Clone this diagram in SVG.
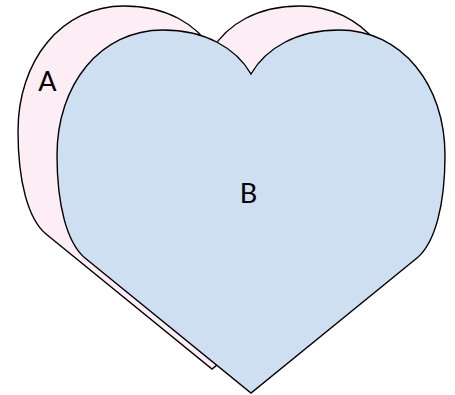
<svg xmlns="http://www.w3.org/2000/svg" xmlns:xlink="http://www.w3.org/1999/xlink" width="455" height="395" viewBox="0 0 455 395">
  <style>
    .heart { stroke: #000000; stroke-width: 1.4; stroke-linejoin: miter; }
    .a { fill: #fdeef5; }
    .b { fill: #cfdff2; }
    .label { font-family: Lato, "Open Sans", "Liberation Sans", sans-serif; font-size: 27px; fill: #000000; }
  </style>
  <defs>
    <path id="heart" d="M 251 74 C 236 48 205 30 163 30 C 100 30 57 85 57 155 C 57 205 67 243 85 258 L 251 393 L 417 258 C 435 243 445 205 445 155 C 445 85 402 30 339 30 C 297 30 266 48 251 74 Z"/>
  </defs>
  <g id="nodeA">
    <use xlink:href="#heart" class="heart a" transform="translate(-39,-24)"/>
    <text class="label" x="47.5" y="91" text-anchor="middle">A</text>
  </g>
  <g id="nodeB">
    <use xlink:href="#heart" class="heart b"/>
    <text class="label" x="248.5" y="203" text-anchor="middle">B</text>
  </g>
</svg>
